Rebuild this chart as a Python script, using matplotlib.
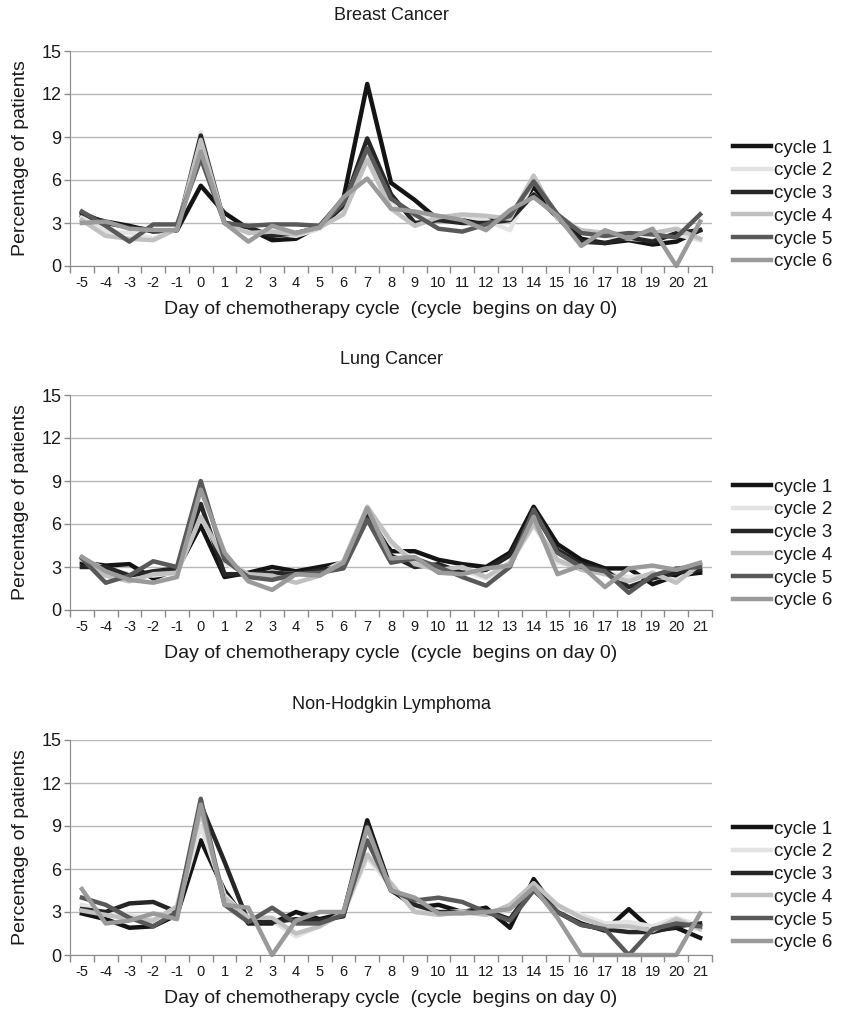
"""Three-panel line chart: percentage of patients by day of chemotherapy cycle, cycles 1-6."""
import numpy as np
import matplotlib; matplotlib.use("Agg"); import matplotlib.pyplot as plt

days = list(range(-5, 22))
cycles = ["cycle 1", "cycle 2", "cycle 3", "cycle 4", "cycle 5", "cycle 6"]
colors = ["#141414", "#e3e3e3", "#262626", "#c0c0c0", "#595959", "#9a9a9a"]

# ---- Breast Cancer ----
breast_c1 = [3.5,3.1,2.8,2.4,2.5,5.6,3.7,2.6,1.8,1.9,2.8,4.7,12.7,5.8,4.6,3.2,3.4,3.1,3.5,5.5,3.6,1.9,1.6,1.8,1.5,1.7,2.5]
breast_c2 = [3.4,2.4,2.3,1.9,2.6,9.3,3.0,2.4,2.3,2.1,2.6,4.0,7.6,4.5,3.5,3.2,3.5,3.2,2.5,6.0,3.6,2.4,2.1,1.9,1.8,2.2,1.8]
breast_c3 = [3.7,3.0,2.7,2.5,2.5,9.1,3.0,2.7,2.1,2.3,2.7,4.2,8.9,5.0,3.0,3.2,3.0,3.0,3.2,5.0,3.4,1.7,1.6,2.0,1.7,2.3,2.5]
breast_c4 = [3.2,2.1,1.9,1.8,2.6,8.8,3.0,2.3,2.4,2.2,2.7,3.6,7.4,4.0,2.8,3.4,3.6,3.5,3.3,6.3,3.3,2.5,2.3,2.2,2.3,2.6,1.9]
breast_c5 = [3.8,2.8,1.7,2.9,2.9,7.5,3.0,2.8,2.9,2.9,2.8,4.4,8.2,4.7,3.6,2.6,2.4,2.9,3.5,5.9,3.6,2.3,2.1,2.3,2.2,2.0,3.6]
breast_c6 = [3.0,3.1,2.6,2.5,2.5,8.0,3.0,1.7,2.8,2.3,2.7,4.8,6.1,4.0,3.8,3.5,3.2,2.5,3.9,4.8,3.5,1.4,2.5,1.9,2.6,0.0,3.1]

# ---- Lung Cancer ----
lung_c1 = [3.3,3.1,3.2,2.2,2.8,5.9,2.3,2.6,3.0,2.7,3.0,3.3,6.6,4.1,4.1,3.5,3.2,3.0,4.0,7.2,4.6,3.5,2.9,2.9,1.8,2.4,2.6]
lung_c2 = [3.5,2.9,2.5,2.4,2.6,6.5,3.3,2.4,2.6,2.5,2.6,3.4,7.2,4.6,3.5,2.8,2.8,2.2,3.2,5.9,3.3,3.0,2.6,2.3,2.4,2.1,3.0]
lung_c3 = [3.0,3.0,2.4,2.7,2.9,7.4,2.5,2.5,2.6,2.5,2.8,3.0,6.8,3.8,3.0,3.2,2.6,2.8,3.8,6.8,4.2,3.2,2.8,1.6,2.2,2.6,2.8]
lung_c4 = [3.7,2.4,2.0,2.5,2.6,6.5,3.5,2.5,2.4,1.9,2.4,3.4,7.2,4.8,3.2,2.8,3.0,2.3,3.3,6.0,3.5,2.8,2.5,2.0,2.6,1.9,3.2]
lung_c5 = [3.6,1.9,2.4,3.4,3.0,9.0,3.5,2.3,2.1,2.5,2.6,2.9,6.3,3.3,3.6,3.0,2.3,1.7,3.0,7.0,4.0,3.0,2.7,1.2,2.4,2.9,3.0]
lung_c6 = [3.7,2.7,2.1,1.9,2.3,8.4,4.0,2.0,1.4,2.5,2.4,3.3,7.1,3.6,3.7,2.6,2.5,2.9,3.1,6.5,2.5,3.1,1.6,2.9,3.1,2.8,3.3]

# ---- Non-Hodgkin Lymphoma ----
nhl_c1 = [2.9,2.5,1.9,2.0,2.8,8.0,4.5,2.2,2.2,3.0,2.5,2.9,9.4,4.6,3.3,3.5,3.0,3.3,1.9,5.3,3.0,2.2,1.7,3.2,1.7,1.9,1.2]
nhl_c2 = [3.5,3.0,2.8,2.5,3.2,9.0,4.2,2.5,2.4,1.3,2.0,2.9,6.8,4.8,3.2,2.9,3.1,2.8,3.2,5.0,3.3,2.8,2.2,2.3,2.0,2.6,2.0]
nhl_c3 = [3.2,3.0,3.6,3.7,3.0,10.5,6.5,2.3,2.3,2.5,2.4,2.7,9.1,4.5,3.5,3.0,3.0,3.1,2.5,4.8,3.0,2.1,1.8,1.6,1.6,2.0,2.2]
nhl_c4 = [3.1,2.8,2.5,2.4,3.4,10.0,4.0,2.6,2.6,1.5,2.0,3.0,7.0,5.0,3.0,2.8,3.0,2.8,3.5,5.0,3.5,2.6,2.0,2.0,1.7,2.5,1.8]
nhl_c5 = [4.0,3.5,2.6,2.0,3.0,10.9,3.5,2.3,3.3,2.2,2.2,2.8,8.0,4.5,3.8,4.0,3.7,3.0,2.4,4.5,3.0,2.1,1.8,0.0,1.8,2.2,2.0]
nhl_c6 = [4.6,2.2,2.4,2.9,2.5,10.5,3.5,3.3,0.0,2.4,3.0,3.0,8.9,4.5,4.0,2.9,2.9,3.0,3.2,4.7,2.6,0.0,0.0,0.0,0.0,0.0,2.9]

panels = [
    ("Breast Cancer", [breast_c1, breast_c2, breast_c3, breast_c4, breast_c5, breast_c6]),
    ("Lung Cancer", [lung_c1, lung_c2, lung_c3, lung_c4, lung_c5, lung_c6]),
    ("Non-Hodgkin Lymphoma", [nhl_c1, nhl_c2, nhl_c3, nhl_c4, nhl_c5, nhl_c6]),
]

INK = "#1a1a1a"; AXC = "#8a8a8a"; GRID = "#b8b8b8"
plt.rcParams.update({"font.family": ["Liberation Sans", "DejaVu Sans"], "text.color": INK,
                     "axes.labelcolor": INK, "xtick.color": INK, "ytick.color": INK,
                     "axes.unicode_minus": False})

W, H = 843, 1009
fig = plt.figure(figsize=(W/100, H/100), dpi=100)
tops = [51, 395, 740]        # pixel top of each plot area
leg_mid = [154, 149, 146]    # legend centre below plot top, px
for (title, series), top, lm in zip(panels, tops, leg_mid):
    ax = fig.add_axes([70/W, 1-(top+215)/H, 642/W, 215/H])
    for s, c, lab in zip(series, colors, cycles):
        ax.plot(days, s, color=c, lw=3.2, label=lab, clip_on=False)
    ax.set_xlim(-5.5, 21.5); ax.set_ylim(0, 15)
    ax.set_yticks(range(0, 16, 3))
    ax.set_xticks(days); ax.set_xticks(np.arange(-5.5, 22, 1), minor=True)
    ax.tick_params(axis="x", which="major", length=0, labelsize=10.5, pad=7)
    ax.tick_params(axis="x", which="minor", length=5, color=AXC, width=1)
    ax.tick_params(axis="y", length=4, color=AXC, width=1, labelsize=13, pad=2)
    ax.grid(axis="y", color=GRID, lw=1)
    ax.set_axisbelow(True)
    for sp in ("top", "right"): ax.spines[sp].set_visible(False)
    for sp in ("left", "bottom"): ax.spines[sp].set_color(AXC)
    ax.set_title(title, fontsize=13, pad=22)
    ax.set_xlabel("Day of chemotherapy cycle  (cycle  begins on day 0)", fontsize=14, labelpad=8)
    ax.set_ylabel("Percentage of patients", fontsize=14)
    ax.yaxis.set_label_coords(-0.064, 0.5)
    ax.legend(loc="center left", bbox_to_anchor=(733/W, 1-(top+lm)/H), bbox_transform=fig.transFigure,
              frameon=False, fontsize=13.5, handlelength=2.0, handletextpad=0.2, labelspacing=0.3,
              borderpad=0, borderaxespad=0)

fig.savefig("out.png", dpi=100)
